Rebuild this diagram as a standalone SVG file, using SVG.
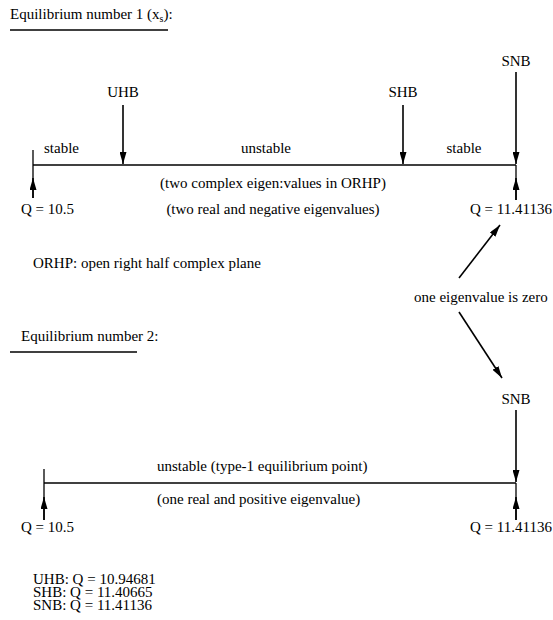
<svg xmlns="http://www.w3.org/2000/svg" width="553" height="620" viewBox="0 0 553 620" font-family="'Liberation Serif', 'DejaVu Serif', serif" font-size="15">
<defs>
<style>
text{font-family:"Liberation Serif","DejaVu Serif",serif;font-size:15px;fill:#000}
.m{text-anchor:middle}
.ln{stroke:#000;stroke-width:1.3;fill:none}
.ar{stroke:#000;stroke-width:1.6;fill:none;marker-end:url(#ah)}
</style>
<marker id="ah" viewBox="0 0 12 7" refX="12" refY="3.5" markerWidth="12" markerHeight="7" markerUnits="userSpaceOnUse" orient="auto">
<path d="M0,0 L12,3.5 L0,7 z" fill="#000"/>
</marker>
</defs>
<rect width="553" height="620" fill="#fff"/>

<g id="title1">
<text x="10" y="19">Equilibrium number 1 (x<tspan font-size="10" dy="3">s</tspan><tspan dy="-3">):</tspan></text>
<line class="ln" x1="10" y1="30" x2="168" y2="30"/>
</g>

<g id="eq1">
<line class="ln" x1="33" y1="165" x2="516" y2="165"/>
<line class="ln" x1="33" y1="150" x2="33" y2="198"/>
<line class="ln" x1="516" y1="165" x2="516" y2="200"/>
<text x="44" y="153">stable</text>
<text class="m" x="266" y="153">unstable</text>
<text class="m" x="464" y="153">stable</text>
<text class="m" x="273" y="188">(two complex eigen:values in ORHP)</text>
<text class="m" x="273" y="214">(two real and negative eigenvalues)</text>
<text x="21" y="214">Q = 10.5</text>
<text x="470" y="214">Q = 11.41136</text>
</g>

<g id="uhb"><text class="m" x="123" y="97">UHB</text></g>
<g id="shb"><text class="m" x="403" y="97">SHB</text></g>
<g id="snb1"><text class="m" x="516" y="66">SNB</text></g>

<g id="orhp"><text x="33" y="268">ORHP: open right half complex plane</text></g>
<g id="zero"><text x="414" y="302">one eigenvalue is zero</text></g>

<g id="title2">
<text x="21" y="341">Equilibrium number 2:</text>
<line class="ln" x1="10" y1="352" x2="137" y2="352"/>
</g>

<g id="snb2"><text class="m" x="516" y="404">SNB</text></g>

<g id="eq2">
<line class="ln" x1="44" y1="483" x2="516" y2="483"/>
<line class="ln" x1="44" y1="469" x2="44" y2="520"/>
<line class="ln" x1="516" y1="483" x2="516" y2="520"/>
<text x="157" y="471">unstable (type-1 equilibrium point)</text>
<text x="157" y="504">(one real and positive eigenvalue)</text>
<text x="21" y="532">Q = 10.5</text>
<text x="470" y="532">Q = 11.41136</text>
</g>

<g id="legend">
<text x="33" y="584">UHB: Q = 10.94681<tspan x="33" dy="13">SHB: Q = 11.40665</tspan><tspan x="33" dy="13">SNB: Q = 11.41136</tspan></text>
</g>

<g id="connectors">
<line class="ar" x1="123" y1="105" x2="123" y2="164"/>
<line class="ar" x1="403" y1="105" x2="403" y2="164"/>
<line class="ar" x1="516" y1="72" x2="516" y2="164"/>
<line class="ar" x1="33" y1="198" x2="33" y2="178"/>
<line class="ar" x1="516" y1="200" x2="516" y2="178"/>
<line class="ar" x1="459" y1="278" x2="500" y2="225"/>
<line class="ar" x1="459" y1="312" x2="502" y2="378"/>
<line class="ar" x1="516" y1="410" x2="516" y2="482"/>
<line class="ar" x1="44" y1="520" x2="44" y2="497"/>
<line class="ar" x1="516" y1="520" x2="516" y2="497"/>
</g>
</svg>
